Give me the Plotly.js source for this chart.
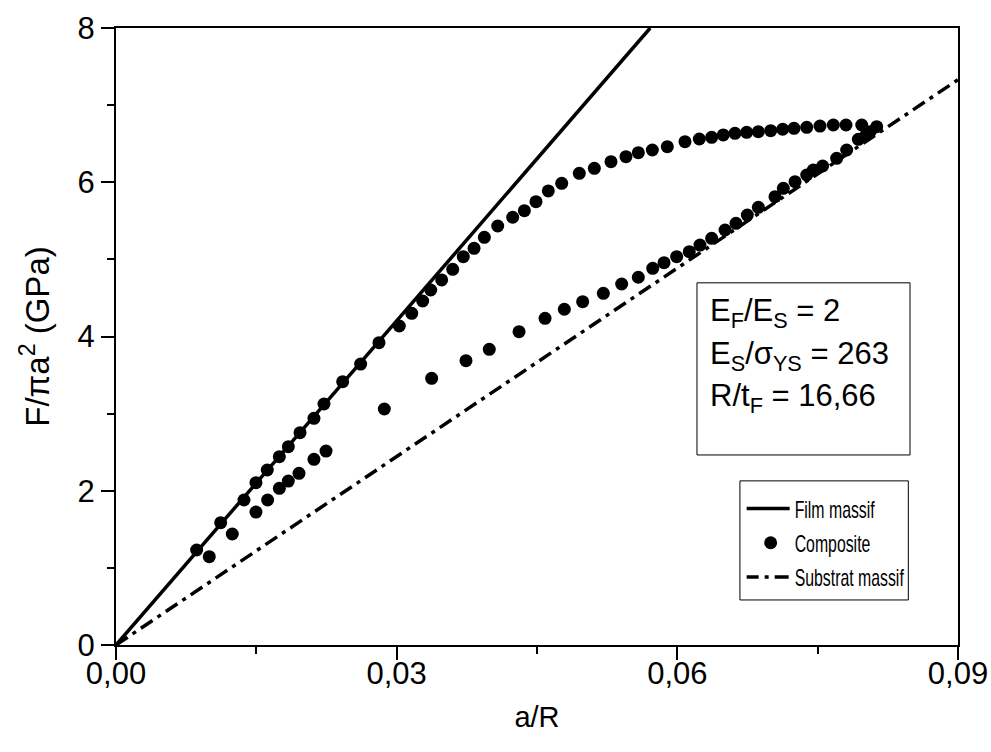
<!DOCTYPE html>
<html>
<head>
<meta charset="utf-8">
<script src="https://cdn.plot.ly/plotly-3.0.1.min.js"></script>
<style>html,body{margin:0;padding:0;background:#fff;}#chart{width:991px;height:752px;}</style>
</head>
<body>
<div id="chart"></div>
<script>
// Film massif (straight line)
const filmX = [0, 0.0571];
const filmY = [0, 8];
// Substrat massif
const subX = [0, 0.09];
const subY = [0, 7.33];
// Composite: loading branch
const compUpX = [0.00862,0.01119,0.01368,0.01496,0.01617,0.01746,0.01842,0.01967,0.02116,0.02223,0.02423,0.02615,0.02811,0.03028,0.03161,0.03278,0.03364,0.03481,0.03599,0.03712,0.03827,0.03937,0.04080,0.04240,0.04365,0.04489,0.04621,0.04764,0.04952,0.05113,0.05291,0.05451,0.05583,0.05733,0.05893,0.06082,0.06235,0.06367,0.06491,0.06616,0.06741,0.06866,0.06998,0.07126,0.07247,0.07383,0.07525,0.07667,0.07803,0.07971,0.08131];
const compUpY = [1.232,1.586,1.880,2.105,2.269,2.442,2.571,2.753,2.939,3.125,3.414,3.643,3.920,4.136,4.301,4.460,4.603,4.733,4.871,5.035,5.143,5.286,5.433,5.546,5.631,5.748,5.887,5.986,6.116,6.181,6.267,6.332,6.384,6.418,6.461,6.526,6.561,6.583,6.613,6.635,6.647,6.656,6.669,6.687,6.699,6.712,6.729,6.742,6.742,6.742,6.721];
// Composite: unloading branch
const compDnX = [0.0806,0.08017,0.07935,0.07810,0.07703,0.07553,0.07453,0.07383,0.07258,0.07133,0.07044,0.06866,0.06748,0.06627,0.06510,0.06367,0.06242,0.06128,0.05993,0.05858,0.05737,0.05583,0.05405,0.05209,0.04988,0.04792,0.04586,0.04308,0.03990,0.03741,0.03374,0.02868,0.02245,0.02116,0.01956,0.01842,0.01746,0.01621,0.01496,0.01243,0.00997];
const compDnY = [6.656,6.613,6.557,6.418,6.310,6.211,6.159,6.094,6.007,5.921,5.813,5.675,5.575,5.467,5.381,5.273,5.186,5.100,5.035,4.957,4.884,4.768,4.681,4.560,4.451,4.353,4.236,4.063,3.834,3.686,3.458,3.060,2.515,2.407,2.226,2.126,2.032,1.880,1.724,1.439,1.145];

const seriesNames = ["Film massif", "Composite", "Substrat massif"];
const xTickVals = [0, 0.03, 0.06, 0.09];
const xTickText = ["0,00", "0,03", "0,06", "0,09"];
const yTickVals = [0, 2, 4, 6, 8];
const infoLines = ["E<sub>F</sub>/E<sub>S</sub> = 2", "E<sub>S</sub>/σ<sub>YS</sub> = 263", "R/t<sub>F</sub> = 16,66"];

const FONT = "Liberation Sans, Arial, sans-serif";

const traces = [
  {x: filmX, y: filmY, mode: "lines", name: seriesNames[0], line: {color: "#000", width: 3.5}},
  {x: compUpX.concat(compDnX), y: compUpY.concat(compDnY), mode: "markers", name: seriesNames[1],
   marker: {color: "#000", size: 13, symbol: "circle"}},
  {x: subX, y: subY, mode: "lines", name: seriesNames[2], line: {color: "#000", width: 3.5, dash: "14px,6px,4px,6px"}}
];

const axCommon = {showgrid: false, zeroline: false, linecolor: "#000", linewidth: 2, tickcolor: "#000", tickwidth: 2};

const layout = {
  width: 991, height: 752,
  margin: {l: 116, r: 33, t: 28, b: 107},
  paper_bgcolor: "#fff", plot_bgcolor: "#fff",
  font: {family: FONT, color: "#000", size: 30},
  showlegend: true,
  legend: {x: 0.749, y: 0.257, xanchor: "left", yanchor: "top", borderwidth: 0,
           bgcolor: "rgba(0,0,0,0)", font: {size: 24, family: FONT}, tracegroupgap: 0, itemwidth: 38},
  xaxis: Object.assign({}, axCommon, {range: [0, 0.09], tickvals: xTickVals, ticktext: xTickText,
    ticks: "outside", ticklen: 13, mirror: true, tickfont: {size: 31, family: FONT}, ticklabelstandoff: -13,
    minor: {dtick: 0.015, tick0: 0, ticks: "outside", ticklen: 7, tickwidth: 2, tickcolor: "#000"},
    title: {text: "a/R", font: {size: 29, family: FONT}, standoff: 16}}),
  yaxis: Object.assign({}, axCommon, {range: [0, 8], tickvals: yTickVals,
    ticks: "outside", ticklen: 13, mirror: true, tickfont: {size: 31, family: FONT},
    minor: {dtick: 1, tick0: 0, ticks: "outside", ticklen: 7, tickwidth: 2, tickcolor: "#000"},
    title: {text: "F/πa<sup>2</sup> (GPa)", font: {size: 33, family: FONT}, standoff: 18}}),
  xaxis2: Object.assign({}, axCommon, {range: [0, 0.09], overlaying: "x", side: "top", anchor: "y",
    tickvals: xTickVals, showticklabels: false, ticks: "inside", ticklen: 13,
    minor: {dtick: 0.015, tick0: 0, ticks: "inside", ticklen: 7, tickwidth: 2, tickcolor: "#000"}}),
  yaxis2: Object.assign({}, axCommon, {range: [0, 8], overlaying: "y", side: "right", anchor: "x",
    tickvals: yTickVals, showticklabels: false, ticks: "inside", ticklen: 13,
    minor: {dtick: 1, tick0: 0, ticks: "inside", ticklen: 7, tickwidth: 2, tickcolor: "#000"}}),
  shapes: [
    {type: "rect", xref: "paper", yref: "paper", x0: 0.690, x1: 0.943, y0: 0.308, y1: 0.587,
     line: {color: "#000", width: 1}, fillcolor: "rgba(0,0,0,0)"},
    {type: "rect", xref: "paper", yref: "paper", x0: 0.741, x1: 0.941, y0: 0.073, y1: 0.266,
     line: {color: "#000", width: 1}, fillcolor: "rgba(0,0,0,0)"}
  ],
  annotations: infoLines.map((t, i) => ({
    text: t, xref: "paper", yref: "paper", x: 0.703, y: [0.538, 0.468, 0.401][i],
    xanchor: "left", yanchor: "middle", showarrow: false, font: {size: 31, family: FONT}
  }))
};

Plotly.newPlot("chart", traces, layout, {displayModeBar: false, staticPlot: true}).then(gd => {
  // condense legend labels horizontally (reference uses a narrow face)
  gd.querySelectorAll(".legendtext").forEach(t => {
    const b = t.getBBox();
    const old = t.getAttribute("transform") || "";
    t.setAttribute("transform", old + ` translate(${b.x},0) scale(0.66,1) translate(${-b.x},0)`);
  });
  // lengthen legend line samples to match the reference
  gd.querySelectorAll(".legendlines path").forEach(p => {
    const b = p.getBBox();
    const right = b.x + b.width;
    p.setAttribute("d", `M${right - 45},0h45`);
  });
});
</script>
</body>
</html>
